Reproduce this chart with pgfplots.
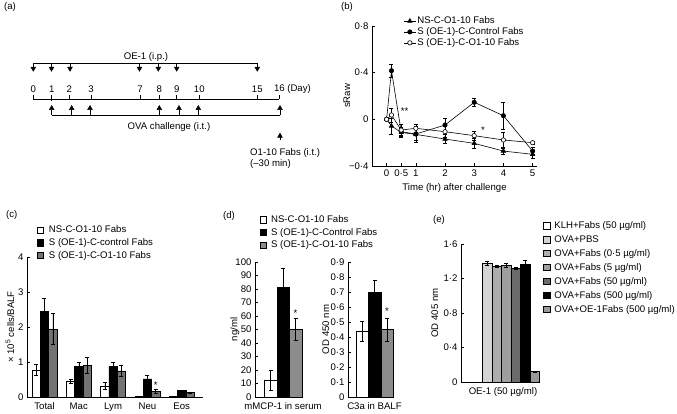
\documentclass[border=0pt]{standalone}
\usepackage{fontspec}
\setmainfont{Liberation Sans}
\usepackage{pgfplots}
\pgfplotsset{compat=1.18}
\newcommand\fsz{\fontsize{9.6bp}{11bp}\selectfont}
\pgfplotsset{
 myax/.style={scale only axis, axis x line*=bottom, axis y line*=left, tick align=inside,
   major tick length=2.5bp, tick style={black,line width=0.5bp}, axis line style={line width=0.6bp},
   clip=false, font=\fsz, /pgf/number format/assume math mode=true, tick label style={font=\fsz},
   label style={font=\fsz}, enlargelimits=false,
   legend style={draw=none, fill=none, anchor=north west, font=\fsz, inner sep=0pt, row sep=0pt,
     column sep=0pt, nodes={inner sep=1.2bp}}, legend cell align=left},
 boxleg/.style={legend image code/.code={\draw[##1, line width=0.5bp] (0bp,-3.2bp) rectangle (6.4bp,3.2bp);}},
 lineleg/.style={legend image code/.code={\draw[mark repeat=2,mark phase=2,##1] plot coordinates {(0bp,0bp) (6bp,0bp) (12bp,0bp)};}},
 eb/.style={error bars/y dir=both, error bars/y explicit,
   error bars/error bar style={line width=0.5bp,black},
   error bars/error mark options={rotate=90, mark size=2bp, black, line width=0.5bp}},
 ylab/.style={ylabel style={at={(axis description cs:#1,0.5)}, anchor=center}},
}
\begin{document}
\begin{tikzpicture}
\useasboundingbox (0bp,0bp) rectangle (677bp,414bp);
% panel labels
\node[font=\fsz] at (10bp,406.7bp) {(a)};
\node[font=\fsz] at (347bp,407bp) {(b)};
\node[font=\fsz] at (11.7bp,199bp) {(c)};
\node[font=\fsz] at (229bp,198bp) {(d)};
\node[font=\fsz] at (439bp,194bp) {(e)};

% ---------- (a) timeline ----------
\begin{axis}[at={(0bp,214bp)}, anchor=south west, scale only axis, width=340bp, height=200bp,
  xmin=0, xmax=340, ymin=0, ymax=200, y dir=reverse, hide axis, clip=false, unbounded coords=jump]
\addplot[black, line width=0.6bp] coordinates {(33.3,63.3) (257.3,63.3)};
\addplot[black, line width=0.6bp] coordinates {
 (33.3,63.3) (33.3,67) (nan,nan) (51.5,63.3) (51.5,67) (nan,nan) (70,63.3) (70,67) (nan,nan)
 (139.5,63.3) (139.5,67) (nan,nan) (158.3,63.3) (158.3,67) (nan,nan) (176.7,63.3) (176.7,67) (nan,nan)
 (257.3,63.3) (257.3,67)};
\addplot[only marks, mark=triangle*, mark size=2.8bp, mark options={rotate=180, fill=black, draw=black}]
 coordinates {(33.3,68.5) (51.5,68.5) (70,68.5) (139.5,68.5) (158.3,68.5) (176.7,68.5) (257.3,68.5)};
% day axis
\addplot[black, line width=0.6bp] coordinates {(33.3,99.3) (279.3,99.3)};
\addplot[black, line width=0.6bp] coordinates {
 (33.3,95) (33.3,99.3) (nan,nan) (51.7,95) (51.7,101) (nan,nan) (69.3,95) (69.3,99.3) (nan,nan)
 (91,95) (91,99.3) (nan,nan) (140,95) (140,99.3) (nan,nan) (159.3,95) (159.3,99.3) (nan,nan)
 (176.7,95) (176.7,99.3) (nan,nan) (199.3,95) (199.3,99.3) (nan,nan) (257.3,95) (257.3,99.3) (nan,nan)
 (279.3,95) (279.3,99.3)};
% OVA challenge
\addplot[only marks, mark=triangle*, mark size=2.8bp, mark options={fill=black, draw=black}]
 coordinates {(51.7,108.3) (71.7,108.3) (90,108.3) (159.3,108.3) (179,108.3) (198.3,108.3) (280,108.3) (280,136)};
\addplot[black, line width=0.6bp] coordinates {(51.7,115) (280,115)};
\addplot[black, line width=0.6bp] coordinates {
 (51.7,109.6) (51.7,115) (nan,nan) (71.7,109.6) (71.7,115) (nan,nan) (90,109.6) (90,115) (nan,nan)
 (159.3,109.6) (159.3,115) (nan,nan) (179,109.6) (179,115) (nan,nan) (198.3,109.6) (198.3,115) (nan,nan)
 (280,109.6) (280,115) (nan,nan) (280,137.3) (280,140)};
\node[font=\fsz] at (146,57) {OE-1 (i.p.)};
\node[font=\fsz] at (33.3,89.3) {0};
\node[font=\fsz] at (51.7,89.3) {1};
\node[font=\fsz] at (69.3,89.3) {2};
\node[font=\fsz] at (91,89.3) {3};
\node[font=\fsz] at (140,89.3) {7};
\node[font=\fsz] at (159.3,89.3) {8};
\node[font=\fsz] at (176.7,89.3) {9};
\node[font=\fsz] at (199.3,89.3) {10};
\node[font=\fsz] at (257.3,89.3) {15};
\node[font=\fsz, anchor=west, inner sep=0pt] at (273.8,89.3) {16 (Day)};
\node[font=\fsz] at (169,127.3) {OVA challenge (i.t.)};
\node[font=\fsz, anchor=west, inner sep=0pt] at (250,153.3) {O1-10 Fabs (i.t.)};
\node[font=\fsz, anchor=west, inner sep=0pt] at (250,164) {(–30 min)};
\end{axis}

% ---------- (b) sRaw ----------
\begin{axis}[myax, at={(372bp,248bp)}, anchor=south west, width=165bp, height=140bp,
  xmin=-0.5, xmax=5.15, ymin=-0.4, ymax=0.8,
  xtick={0,0.5,1,2,3,4,5}, xticklabels={0,0·5,1,2,3,4,5},
  ytick={-0.4,0,0.4,0.8}, yticklabels={−0·4,0,0·4,0·8},
  xlabel={Time (hr) after challenge}, ylabel={sRaw}, ylab=-0.152, lineleg,
  legend style={at={(axis description cs:0.19,1.075)}}]
\addplot[black, line width=0.6bp, mark=triangle*, mark size=2.5bp, mark options={fill=black, solid}, eb]
 coordinates {(0,0) +- (0,0) (0.167,-0.057) +- (0,0.07) (0.5,-0.112) +- (0,0.04) (1,-0.129) +- (0,0.07)
 (2,-0.169) +- (0,0.04) (3,-0.206) +- (0,0.04) (4,-0.272) +- (0,0.03) (5,-0.30) +- (0,0.035)};
\addlegendentry{NS-C-O1-10 Fabs}
\addplot[black, line width=0.6bp, mark=*, mark size=2.2bp, mark options={fill=black, solid}, eb]
 coordinates {(0,0) +- (0,0) (0.167,0.417) +- (0,0.055) (0.5,-0.106) +- (0,0.03) (1,-0.126) +- (0,0.05)
 (2,-0.049) +- (0,0.06) (3,0.146) +- (0,0.035) (4,0.031) +- (0,0.115) (5,-0.272) +- (0,0.03)};
\addlegendentry{S (OE-1)-C-Control Fabs}
\addplot[black, line width=0.6bp, mark=*, mark size=2.2bp, mark options={fill=white, solid}, eb]
 coordinates {(0,0) +- (0,0) (0.167,0.037) +- (0,0.06) (0.5,-0.092) +- (0,0.05) (1,-0.077) +- (0,0.035)
 (2,-0.106) +- (0,0.05) (3,-0.14) +- (0,0.04) (4,-0.177) +- (0,0.07) (5,-0.2) +- (0,0.015)};
\addlegendentry{S (OE-1)-C-O1-10 Fabs}
\node[font=\fsz] at (0.62,0.07) {**};
\node[font=\fsz] at (3.3,-0.095) {*};
\end{axis}

% ---------- (c) cells ----------
\begin{axis}[myax, at={(27bp,17bp)}, anchor=south west, width=176bp, height=140bp,
  xmin=-0.51, xmax=4.62, ymin=0, ymax=4, ytick={0,1,2,3,4},
  xtick={0,1,2,3,4}, xticklabels={Total,Mac,Lym,Neu,Eos}, x tick style={draw=none},
  ybar=0pt, bar width=8.3bp, ylabel={× 10\textsuperscript{5} cells/BALF}, ylab=-0.097, boxleg,
  legend style={at={(axis description cs:0.055,1.232)}, row sep=1.8bp, column sep=4bp}]
\addplot[fill=white, draw=black, line width=0.5bp, eb] coordinates {(0,0.77) +- (0,0.16) (1,0.45) +- (0,0.06)
 (2,0.31) +- (0,0.1) (3,0.03) +- (0,0) (4,0.01) +- (0,0)};
\addlegendentry{NS-C-O1-10 Fabs}
\addplot[fill=black, draw=black, line width=0.5bp, eb] coordinates {(0,2.44) +- (0,0.37) (1,0.88) +- (0,0.12)
 (2,0.88) +- (0,0.1) (3,0.52) +- (0,0.11) (4,0.18) +- (0,0.02)};
\addlegendentry{S (OE-1)-C-control Fabs}
\addplot[fill=black!55, draw=black, line width=0.5bp, eb] coordinates {(0,1.94) +- (0,0.44) (1,0.91) +- (0,0.23)
 (2,0.75) +- (0,0.15) (3,0.17) +- (0,0.06) (4,0.13) +- (0,0.02)};
\addlegendentry{S (OE-1)-C-O1-10 Fabs}
\node[font=\fsz] at (3.24,0.33) {*};
\end{axis}

% ---------- (d) left mMCP-1 ----------
\begin{axis}[myax, at={(255bp,17bp)}, anchor=south west, width=48bp, height=135bp,
  xmin=-28, xmax=20, ymin=0, ymax=100, ytick={0,10,...,100},
  xtick={0}, xticklabels={mMCP-1 in serum}, x tick style={draw=none},
  ybar=0pt, bar width=12.5bp, ylabel={ng/ml}, ylab=-0.42, boxleg,
  legend style={at={(axis description cs:0.1,1.355)}, row sep=1.8bp, column sep=3bp}]
\addplot[fill=white, draw=black, line width=0.5bp, eb] coordinates {(0,12.5) +- (0,7.5)};
\addlegendentry{NS-C-O1-10 Fabs}
\addplot[fill=black, draw=black, line width=0.5bp, eb] coordinates {(0,81) +- (0,14)};
\addlegendentry{S (OE-1)-C-Control Fabs}
\addplot[fill=black!45, draw=black, line width=0.5bp, eb] coordinates {(0,50) +- (0,8)};
\addlegendentry{S (OE-1)-C-O1-10 Fabs}
\node[font=\fsz] at (12.5,62) {*};
\end{axis}

% ---------- (d) right C3a ----------
\begin{axis}[myax, at={(348bp,17bp)}, anchor=south west, width=46bp, height=135bp,
  xmin=-26.5, xmax=19.5, ymin=0, ymax=0.9, ytick={0,0.1,...,0.9},
  yticklabels={0,0·1,0·2,0·3,0·4,0·5,0·6,0·7,0·8,0·9},
  xtick={0}, xticklabels={C3a in BALF}, x tick style={draw=none},
  ybar=0pt, bar width=12.5bp, ylabel={OD 450 nm}, ylab=-0.48]
\addplot[fill=white, draw=black, line width=0.5bp, eb] coordinates {(0,0.44) +- (0,0.065)};
\addplot[fill=black, draw=black, line width=0.5bp, eb] coordinates {(0,0.70) +- (0,0.08)};
\addplot[fill=black!45, draw=black, line width=0.5bp, eb] coordinates {(0,0.45) +- (0,0.075)};
\node[font=\fsz] at (12.5,0.57) {*};
\end{axis}

% ---------- (e) ELISA ----------
\begin{axis}[myax, at={(461bp,32bp)}, anchor=south west, width=79bp, height=138bp,
  xmin=-45, xmax=34, ymin=0, ymax=1.6, ytick={0,0.4,0.8,1.2,1.6},
  yticklabels={0,0·4,0·8,1·2,1·6},
  xtick={-3}, xticklabels={OE-1 (50 µg/ml)}, x tick style={draw=none},
  ybar=0pt, bar width=9.5bp, ylabel={OD 405 nm}, ylab=-0.33, boxleg,
  legend style={at={(axis description cs:1.04,1.172)}, row sep=3.1bp, column sep=3bp}]
\addplot[fill=white, draw=black, line width=0.5bp, eb] coordinates {(0,0) +- (0,0)};
\addlegendentry{KLH+Fabs (50 µg/ml)}
\addplot[fill=black!17, draw=black, line width=0.5bp, eb] coordinates {(0,1.38) +- (0,0.025)};
\addlegendentry{OVA+PBS}
\addplot[fill=black!32, draw=black, line width=0.5bp, eb] coordinates {(0,1.34) +- (0,0.01)};
\addlegendentry{OVA+Fabs (0·5 µg/ml)}
\addplot[fill=black!38, draw=black, line width=0.5bp, eb] coordinates {(0,1.35) +- (0,0.025)};
\addlegendentry{OVA+Fabs (5 µg/ml)}
\addplot[fill=black!58, draw=black, line width=0.5bp, eb] coordinates {(0,1.32) +- (0,0.01)};
\addlegendentry{OVA+Fabs (50 µg/ml)}
\addplot[fill=black, draw=black, line width=0.5bp, eb] coordinates {(0,1.37) +- (0,0.04)};
\addlegendentry{OVA+Fabs (500 µg/ml)}
\addplot[fill=black!40, draw=black, line width=0.5bp, eb] coordinates {(0,0.12) +- (0,0.01)};
\addlegendentry{OVA+OE-1Fabs (500 µg/ml)}
\end{axis}
\end{tikzpicture}
\end{document}
